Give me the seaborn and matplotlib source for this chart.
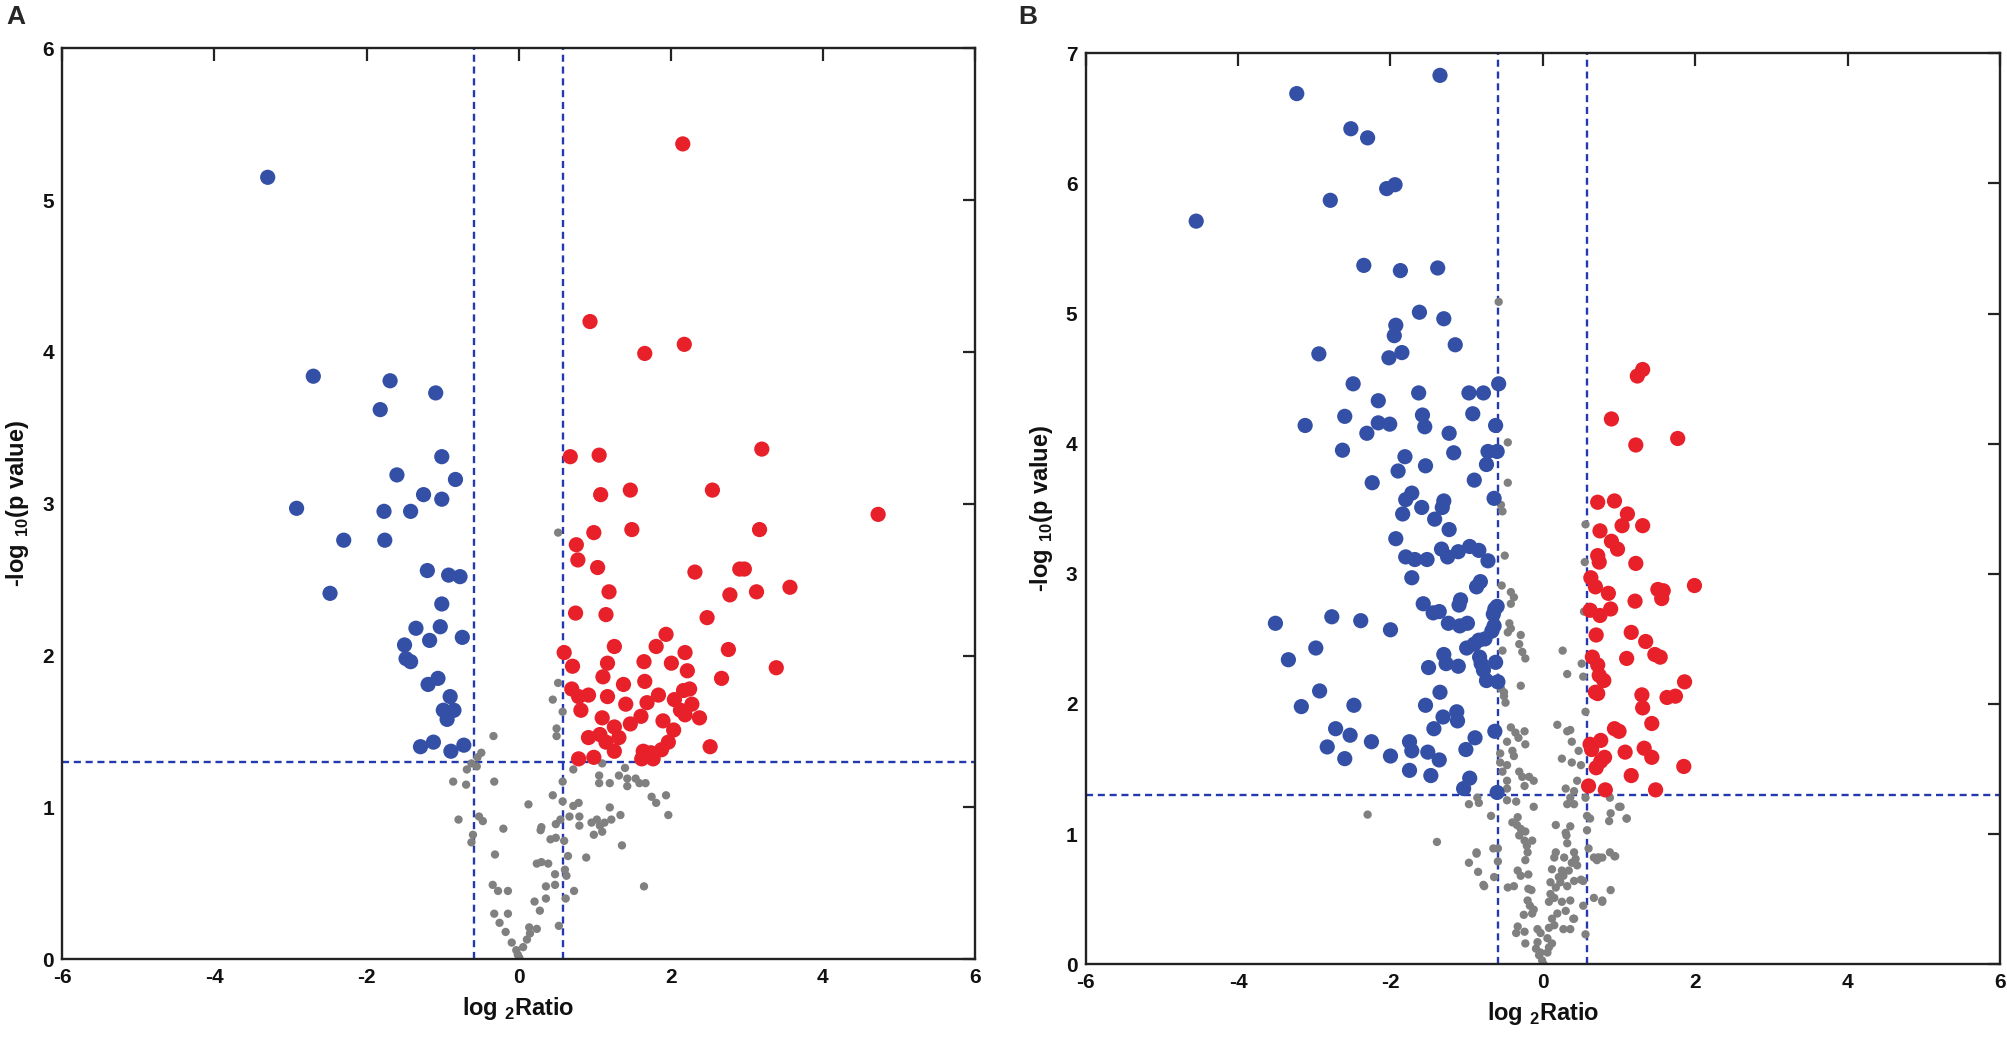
import numpy as np
import pandas as pd
import matplotlib as mpl
mpl.use("Agg")
import matplotlib.pyplot as plt
import seaborn as sns

# ---- panel A : significant down / up / not significant ----
a_down_x = [-3.30, -2.70, -2.92, -2.30, -2.48, -1.69, -1.82, -1.09, -1.60, -1.77, -1.76, -1.42,
            -1.25, -1.01, -1.01, -0.83, -1.20, -0.92, -0.77, -1.01, -1.35, -1.03, -1.50, -1.48,
            -1.42, -1.17, -0.74, -1.19, -1.06, -0.90, -0.99, -0.85, -0.94, -1.29, -1.12, -0.89, -0.72]
a_down_y = [5.15, 3.84, 2.97, 2.76, 2.41, 3.81, 3.62, 3.73, 3.19, 2.95, 2.76, 2.95,
            3.06, 3.31, 3.03, 3.16, 2.56, 2.53, 2.52, 2.34, 2.18, 2.19, 2.07, 1.98,
            1.96, 2.10, 2.12, 1.81, 1.85, 1.73, 1.64, 1.64, 1.58, 1.40, 1.43, 1.37, 1.41]

a_up_x = [2.16, 0.94, 2.18, 1.66, 0.68, 1.06, 1.08, 1.47, 1.49, 3.20, 2.55, 4.73, 3.17, 0.99,
          0.76, 0.78, 1.04, 2.32, 2.91, 2.97, 3.57, 3.13, 2.78, 1.19, 0.75, 1.15, 2.48, 0.60,
          1.26, 1.81, 1.94, 2.19, 2.76, 3.39, 0.71, 1.17, 1.65, 2.01, 1.11, 2.22, 2.67, 1.38,
          1.66, 0.70, 0.79, 0.92, 1.17, 1.41, 1.69, 1.84, 2.05, 2.17, 2.25, 2.28, 2.13, 0.82,
          1.10, 1.61, 1.90, 2.38, 1.47, 2.04, 2.19, 0.92, 1.07, 1.26, 1.32, 1.15, 1.97, 2.52,
          1.64, 1.74, 1.88, 1.26, 0.79, 0.99, 1.62, 1.77]
a_up_y = [5.37, 4.20, 4.05, 3.99, 3.31, 3.32, 3.06, 3.09, 2.83, 3.36, 3.09, 2.93, 2.83, 2.81,
          2.73, 2.63, 2.58, 2.55, 2.57, 2.57, 2.45, 2.42, 2.40, 2.42, 2.28, 2.27, 2.25, 2.02,
          2.06, 2.06, 2.14, 2.02, 2.04, 1.92, 1.93, 1.95, 1.96, 1.95, 1.86, 1.90, 1.85, 1.81,
          1.83, 1.78, 1.73, 1.74, 1.73, 1.68, 1.69, 1.74, 1.71, 1.77, 1.78, 1.68, 1.64, 1.64,
          1.59, 1.60, 1.57, 1.59, 1.55, 1.51, 1.61, 1.46, 1.48, 1.53, 1.46, 1.43, 1.43, 1.40,
          1.37, 1.36, 1.38, 1.37, 1.32, 1.33, 1.32, 1.32]

a_ns_x = [-0.49, -0.54, -0.62, -0.68, -0.55, -0.86, -0.69, -0.32, -0.79, -0.52, -0.47, -0.20,
          -0.60, -0.62, -0.31, -0.34, -0.27, -0.14, -0.32, -0.14, -0.25, -0.17, -0.09, -0.03,
          0.01, -0.01, 0.06, 0.11, 0.15, 0.14, 0.24, 0.21, 0.28, 0.36, 0.36, 0.48, 0.48, 0.61,
          0.63, 0.62, 0.73, 0.53, 0.24, 0.30, 0.39, 0.65, 0.89, 0.13, 0.30, 0.29, 0.42, 0.49,
          0.60, 0.49, 0.55, 0.45, 0.58, 0.58, 0.72, 0.79, 0.67, 0.80, 0.80, 0.96, 1.03, 1.07,
          1.10, 0.99, 1.13, 1.22, 1.20, 1.34, 1.36, 1.65, 0.72, 1.06, 1.06, 1.20, 1.32, 1.40,
          1.43, 1.43, 1.54, 1.59, 1.67, 1.75, 1.81, 1.94, 1.97, 1.10, 0.52, 0.52, 0.45, 0.58,
          0.50, 0.50, -0.33]
a_ns_y = [1.36, 1.33, 1.29, 1.25, 1.27, 1.17, 1.15, 1.17, 0.92, 0.94, 0.91, 0.86,
          0.82, 0.77, 0.69, 0.49, 0.45, 0.45, 0.30, 0.30, 0.24, 0.18, 0.11, 0.06,
          0.01, 0.03, 0.08, 0.13, 0.17, 0.21, 0.20, 0.38, 0.32, 0.40, 0.48, 0.49, 0.56, 0.59,
          0.55, 0.40, 0.45, 0.22, 0.63, 0.64, 0.63, 0.68, 0.67, 1.02, 0.87, 0.85, 0.79, 0.80,
          0.78, 0.89, 0.92, 1.08, 1.04, 1.17, 1.01, 1.03, 0.94, 0.94, 0.88, 0.90, 0.92, 0.88,
          0.84, 0.82, 0.90, 0.92, 1.00, 0.95, 0.75, 0.48, 1.25, 1.21, 1.16, 1.16, 1.21, 1.26,
          1.19, 1.14, 1.19, 1.16, 1.16, 1.07, 1.03, 1.08, 0.95, 1.29, 2.81, 1.82, 1.71, 1.63,
          1.52, 1.47, 1.47]

# ---- panel B ----
b_down_x = [-1.35, -3.23, -2.52, -2.30, -2.05, -1.94, -2.79, -4.55, -2.35, -1.87, -1.38, -1.62,
            -1.30, -1.93, -1.95, -1.85, -2.02, -1.15, -2.94, -2.49, -0.58, -2.16, -1.63, -0.97,
            -0.78, -1.58, -0.92, -2.60, -2.16, -2.01, -3.12, -1.55, -0.62, -2.31, -1.23, -2.63,
            -1.17, -0.60, -0.72, -1.81, -0.74, -1.54, -1.90, -2.24, -0.90, -1.72, -1.80, -1.30,
            -1.32, -0.64, -1.59, -1.84, -1.42, -1.23, -1.93, -0.96, -1.33, -1.11, -0.84, -1.80,
            -1.68, -1.52, -1.25, -0.72, -1.72, -0.82, -0.87, -1.57, -1.08, -1.10, -1.36, -1.44,
            -0.63, -0.60, -0.65, -3.51, -2.77, -2.39, -2.00, -1.24, -1.09, -0.99, -0.64, -0.67,
            -0.84, -0.76, -1.00, -0.90, -2.98, -3.34, -1.30, -1.50, -1.27, -1.11, -0.83, -0.81,
            -0.62, -0.78, -0.74, -0.59, -2.93, -1.35, -3.17, -2.48, -1.54, -1.13, -1.31, -1.12,
            -1.43, -0.63, -2.72, -2.53, -0.89, -2.83, -2.25, -1.75, -1.72, -1.01, -2.60, -2.00,
            -1.51, -1.36, -1.75, -1.47, -0.96, -1.04, -0.60]
b_down_y = [6.83, 6.69, 6.42, 6.35, 5.96, 5.99, 5.87, 5.71, 5.37, 5.33, 5.35, 5.01,
            4.96, 4.91, 4.83, 4.70, 4.66, 4.76, 4.69, 4.46, 4.46, 4.33, 4.39, 4.39,
            4.39, 4.22, 4.23, 4.21, 4.16, 4.15, 4.14, 4.13, 4.14, 4.08, 4.08, 3.95,
            3.93, 3.94, 3.94, 3.90, 3.84, 3.83, 3.79, 3.70, 3.72, 3.62, 3.57, 3.56,
            3.51, 3.58, 3.51, 3.46, 3.42, 3.34, 3.27, 3.21, 3.19, 3.17, 3.18, 3.13,
            3.11, 3.11, 3.13, 3.10, 2.97, 2.94, 2.90, 2.77, 2.80, 2.76, 2.71, 2.70,
            2.73, 2.75, 2.69, 2.62, 2.67, 2.64, 2.57, 2.62, 2.60, 2.62, 2.60, 2.56,
            2.49, 2.50, 2.43, 2.46, 2.43, 2.34, 2.38, 2.28, 2.31, 2.29, 2.36, 2.31,
            2.32, 2.26, 2.18, 2.17, 2.10, 2.09, 1.98, 1.99, 1.99, 1.94, 1.90, 1.87,
            1.81, 1.79, 1.81, 1.76, 1.74, 1.67, 1.71, 1.71, 1.64, 1.65, 1.58, 1.60,
            1.63, 1.57, 1.49, 1.45, 1.43, 1.35, 1.32]

b_up_x = [1.31, 1.24, 0.90, 1.77, 1.22, 0.72, 0.94, 1.11, 1.04, 1.31, 0.75, 0.90, 0.98, 0.72,
          0.74, 1.22, 0.63, 0.69, 0.86, 1.51, 1.58, 1.56, 1.21, 1.99, 0.62, 0.75, 0.89, 0.70,
          1.16, 1.35, 1.47, 1.54, 1.10, 0.65, 0.72, 0.74, 0.80, 1.86, 0.69, 0.72, 1.30, 1.63,
          1.74, 1.31, 1.43, 0.94, 1.00, 0.76, 0.62, 0.64, 1.08, 1.33, 1.43, 0.81, 0.76, 1.85,
          0.70, 1.16, 0.60, 0.82, 1.48]
b_up_y = [4.57, 4.52, 4.19, 4.04, 3.99, 3.55, 3.56, 3.46, 3.37, 3.37, 3.33, 3.25, 3.19, 3.14,
          3.09, 3.08, 2.97, 2.90, 2.85, 2.88, 2.87, 2.81, 2.79, 2.91, 2.72, 2.68, 2.73, 2.53,
          2.55, 2.48, 2.38, 2.36, 2.35, 2.36, 2.30, 2.22, 2.18, 2.17, 2.09, 2.08, 2.07, 2.05,
          2.06, 1.97, 1.85, 1.81, 1.79, 1.72, 1.69, 1.65, 1.63, 1.66, 1.59, 1.59, 1.56, 1.52,
          1.51, 1.45, 1.37, 1.34, 1.34]

b_ns_x = [-0.51, -0.49, 0.56, 0.19, 0.32, 0.36, -0.42, -0.36, -0.32, -0.24, -0.23, -0.47,
          -0.40, -0.56, -0.38, -0.56, -0.47, -0.53, -0.31, -0.27, -0.18, -0.12, -0.24, -0.47,
          -0.47, 0.38, 0.47, 0.25, 0.38, 0.50, 0.45, 0.30, 0.41, 0.36, 0.32, 0.41, 0.56, 0.58,
          0.62, 0.88, 1.00, 1.10, 0.87, -0.86, -0.84, -0.97, -0.47, -0.35, -0.12, -0.68, -0.33,
          -0.40, -0.34, -0.29, -0.31, -0.23, -0.24, -0.14, -0.21, -0.20, -0.23, -0.33, -0.29,
          -0.19, -0.46, -0.38, -0.19, -0.15, -0.20, -0.17, -0.25, -0.14, -0.12, -0.33, -0.35,
          -0.24, -0.23, -0.07, -0.03, -0.07, -0.09, -0.05, -0.01, 0.01, -0.03, 0.06, 0.08,
          0.12, 0.06, 0.08, 0.15, 0.27, 0.36, 0.12, 0.19, 0.30, 0.41, 0.08, 0.15, 0.25, 0.36,
          0.10, 0.17, 0.23, 0.32, 0.10, 0.21, 0.27, 0.41, 0.34, 0.50, 0.53, 0.12, 0.25, 0.38,
          0.43, 0.45, 0.15, 0.17, 0.28, 0.41, 0.32, 0.31, 0.30, 0.36, 0.17, 0.58, 0.60, 0.67,
          0.74, 0.71, 0.88, 0.95, 0.67, 0.78, 0.89, 0.53, 0.56, 0.40, -0.87, -0.97, -0.85,
          -0.64, -0.77, -0.59, -0.59, -1.39, -2.30, 0.89, 1.02, 1.10, 0.72, 0.78, 0.94, 0.78,
          -0.58, -0.46, -0.46, -0.55, -0.53, -0.50, 0.56, 0.55, -0.54, -0.42, -0.38, -0.42,
          -0.44, -0.42, -0.46, -0.29, -0.31, -0.27, -0.23, -0.53, 0.26, 0.32, 0.51, 0.53,
          -0.29, -0.55, -0.51, 0.54, -0.87, -0.65, -0.78]
b_ns_y = [2.09, 2.01, 1.94, 1.84, 1.79, 1.80, 1.82, 1.78, 1.74, 1.79, 1.69, 1.71,
          1.64, 1.62, 1.60, 1.55, 1.53, 1.48, 1.48, 1.44, 1.44, 1.41, 1.37, 1.41,
          1.35, 1.71, 1.64, 1.58, 1.55, 1.53, 1.41, 1.35, 1.33, 1.28, 1.23, 1.23, 1.28, 1.14,
          1.12, 1.28, 1.21, 1.12, 1.10, 1.28, 1.24, 1.23, 1.26, 1.25, 1.21, 1.14, 1.13,
          1.09, 1.07, 1.04, 0.99, 1.02, 0.95, 0.95, 0.91, 0.86, 0.80, 0.72, 0.68,
          0.69, 0.59, 0.60, 0.58, 0.57, 0.49, 0.45, 0.38, 0.39, 0.42, 0.29, 0.24,
          0.25, 0.16, 0.27, 0.24, 0.17, 0.12, 0.07, 0.03, 0.00, 0.09, 0.09, 0.13,
          0.16, 0.20, 0.28, 0.30, 0.27, 0.27, 0.35, 0.39, 0.41, 0.35, 0.48, 0.51, 0.48, 0.49,
          0.54, 0.59, 0.63, 0.60, 0.63, 0.67, 0.68, 0.64, 0.72, 0.65, 0.64, 0.73, 0.72, 0.78,
          0.81, 0.76, 0.82, 0.86, 0.82, 0.86, 0.93, 0.99, 1.01, 1.06, 1.07, 1.03, 0.89, 0.82,
          0.82, 0.80, 0.86, 0.83, 0.51, 0.48, 0.57, 0.45, 0.23, 0.35, 0.86, 0.78, 0.71,
          0.67, 0.60, 0.89, 0.79, 0.94, 1.15, 1.16, 1.21, 1.12, 0.82, 0.82, 0.83, 0.49,
          5.09, 4.01, 3.70, 3.53, 3.48, 3.14, 3.38, 3.09, 2.91, 2.86, 2.82, 2.77,
          2.62, 2.58, 2.55, 2.53, 2.46, 2.40, 2.35, 2.41, 2.41, 2.23, 2.31, 2.21,
          2.14, 2.12, 2.06, 2.71, 0.85, 0.89, 0.61]

x_ticks = [-6, -4, -2, 0, 2, 4, 6]
x_tick_labels = ["-6", "-4", "-2", "0", "2", "4", "6"]

fc_cut = np.log2(1.5)
p_cut = -np.log10(0.05)

groups = ["ns", "down", "up"]
colors = {"ns": "#808080", "down": "#3450a6", "up": "#e8202a"}
sizes = {"ns": 36, "down": 120, "up": 120}


def make_df(ns_x, ns_y, down_x, down_y, up_x, up_y):
    parts = []
    for g, xs, ys in zip(groups, [ns_x, down_x, up_x], [ns_y, down_y, up_y]):
        parts.append(pd.DataFrame({"log2ratio": xs, "logp": ys, "group": g}))
    return pd.concat(parts, ignore_index=True)


df_a = make_df(a_ns_x, a_ns_y, a_down_x, a_down_y, a_up_x, a_up_y)
df_b = make_df(b_ns_x, b_ns_y, b_down_x, b_down_y, b_up_x, b_up_y)

sns.set_style("white")
plt.rcParams["font.family"] = ["Liberation Sans", "DejaVu Sans"]
plt.rcParams["font.weight"] = "bold"
plt.rcParams["axes.unicode_minus"] = False
plt.rcParams["mathtext.fontset"] = "custom"
plt.rcParams["mathtext.bf"] = "Liberation Sans:bold"
plt.rcParams["mathtext.rm"] = "Liberation Sans:bold"

fig = plt.figure(figsize=(20.08, 10.42), dpi=100)
ax_a = fig.add_axes([0.0311, 0.0794, 0.4543, 0.8743])
ax_b = fig.add_axes([0.5407, 0.0746, 0.4553, 0.8743])

for ax, df, ymax in [(ax_a, df_a, 6), (ax_b, df_b, 7)]:
    sns.scatterplot(data=df, x="log2ratio", y="logp", hue="group", size="group",
                    palette=colors, sizes=sizes, linewidth=0, legend=False, ax=ax, zorder=2)
    ax.axvline(-fc_cut, color="#2438b0", ls=(0, (3, 2)), lw=1.7, zorder=1)
    ax.axvline(fc_cut, color="#2438b0", ls=(0, (3, 2)), lw=1.7, zorder=1)
    ax.axhline(p_cut, color="#2438b0", ls=(0, (3, 2)), lw=1.7, zorder=1)
    ax.set_xlim(-6, 6)
    ax.set_ylim(0, ymax)
    ax.set_xticks(x_ticks, labels=x_tick_labels, fontsize=15, fontweight="bold", color="#111111")
    ax.set_yticks(range(0, ymax + 1), labels=[str(v) for v in range(0, ymax + 1)],
                  fontsize=15, fontweight="bold", color="#111111")
    ax.tick_params(direction="in", length=9, width=1.6, top=True, right=True, pad=6,
                   color="#222222")
    for sp in ax.spines.values():
        sp.set_linewidth(1.7)
        sp.set_color("#222222")
    ax.set_xlabel("log $_{\\mathbf{2}}$Ratio", fontsize=17, fontweight="bold", labelpad=6,
                  color="#111111")
    ax.set_ylabel("-log $_{\\mathbf{10}}$(p value)", fontsize=17, fontweight="bold", labelpad=8,
                  color="#111111")

fig.text(0.003, 0.995, "A", fontsize=19, fontweight="bold", va="top", ha="left")
fig.text(0.507, 0.995, "B", fontsize=19, fontweight="bold", va="top", ha="left")

fig.savefig("out.png", dpi=100)
